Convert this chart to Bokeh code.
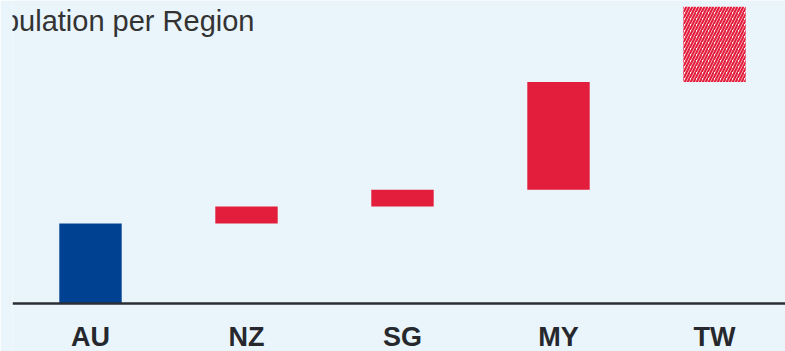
import numpy as np
from bokeh.plotting import figure
from bokeh.models import ColumnDataSource, Range1d, Label, Span
from bokeh.core.properties import value
from bokeh.embed import file_html
from bokeh.resources import INLINE

# Data
regions = ["AU", "NZ", "SG", "MY", "TW"]
population = [26.0, 5.5, 5.5, 35.0, 24.5]   # millions
kinds = ["total", "delta", "delta", "delta", "projected"]
title_text = "Population per Region"

BLUE = "#004191"
RED = "#e31e3d"
BG = "#e9f5fb"
AXIS = "#2b2e35"
TEXT = "#26282d"

pos = np.arange(len(regions)) + 0.5
vals = np.array(population)
tops = np.cumsum(vals)
bottoms = tops - vals

def sel(kind):
    idx = [i for i, k in enumerate(kinds) if k == kind]
    return ColumnDataSource(dict(x=pos[idx], top=tops[idx], bottom=bottoms[idx]))

W, H = 785, 351
BASE = 303            # pixel row of the zero line
PX = 303 / 98.5       # pixels per unit
p = figure(width=W, height=H, output_backend="svg", toolbar_location=None,
           x_range=Range1d(0, 773 / 156), y_range=Range1d(-(H - BASE) / PX, BASE / PX),
           min_border_left=12, min_border_right=0, min_border_top=0, min_border_bottom=0)
p.background_fill_color = BG
p.border_fill_color = BG
p.outline_line_color = None
p.grid.visible = False
p.axis.visible = False

bw = 0.4
p.vbar(x="x", top="top", bottom="bottom", width=bw, source=sel("total"),
       fill_color=BLUE, line_color=None)
p.vbar(x="x", top="top", bottom="bottom", width=bw, source=sel("delta"),
       fill_color=RED, line_color=None)
p.vbar(x="x", top="top", bottom="bottom", width=bw, source=sel("projected"),
       fill_color="white", line_color=None, hatch_pattern="/", hatch_color=RED,
       hatch_scale=6, hatch_weight=2.2)

p.add_layout(Span(location=0, dimension="width", line_color=AXIS, line_width=2.5))

lab_src = ColumnDataSource(dict(x=pos, y=np.full(len(pos), -(336 - BASE) / PX), t=regions))
p.text(x="x", y="y", text="t", source=lab_src, text_align="center",
       text_baseline="middle", text_font=value("Liberation Sans"),
       text_font_style="bold", text_font_size="27px", text_color=TEXT)

title = Label(x=-45, y=(BASE - 20) / PX, x_units="screen", y_units="data", text=title_text,
              text_font="Liberation Sans", text_font_size="29px", text_color="#333333",
              text_baseline="alphabetic")
p.add_layout(title)

open("out.html", "w").write(file_html(p, INLINE))
